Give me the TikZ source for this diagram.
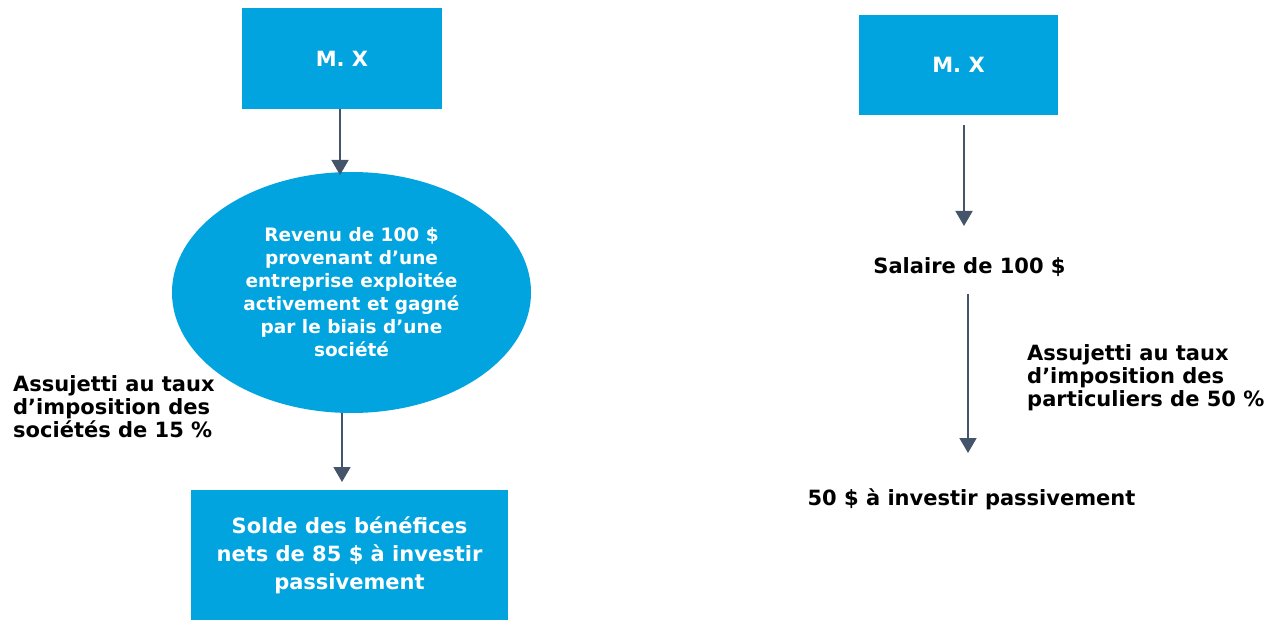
\documentclass[tikz,border=0pt]{standalone}
\usepackage{fontspec}
\setmainfont{DejaVu Sans}
\usetikzlibrary{
	positioning,
	arrows.meta,
	shapes.geometric
}
\definecolor{boxblue}{RGB}{2,164,224}
\definecolor{arrowgrey}{RGB}{68,84,106}

\begin{document}
\begin{tikzpicture}[
		x=1pt, y=-1pt,
		font=\bfseries\fontsize{21}{23}\selectfont,
		box/.style={fill=boxblue, text=white, inner sep=0pt, align=center},
		plain/.style={text=black, inner sep=0pt},
		flow/.style={draw=arrowgrey, line width=1.6pt, -{Triangle[width=17pt,length=15pt]}}
		]
		\useasboundingbox (0,0) rectangle (1282,620);
		
		% left side: through a company
		\node[box, minimum width=200pt, minimum height=101pt] (mx1) at (342,59) {M. X};
		\node[box, ellipse, minimum width=359pt, minimum height=241pt,
			font=\bfseries\fontsize{18.5}{23}\selectfont] (rev) at (351.5,292.5) {
			Revenu de 100 \$\\ provenant d’une\\ entreprise exploitée\\ activement et gagné\\ par le biais d’une\\ société
		};
		\node[box, minimum width=317pt, minimum height=130pt,
			font=\bfseries\fontsize{21}{28}\selectfont] (solde) at (349.5,555) {
			Solde des bénéfices\\ nets de 85 \$ à investir\\ passivement
		};
		\node[plain, align=left, anchor=west] (tax1) at (13,407) {
			Assujetti au taux\\ d’imposition des\\ sociétés de 15 \%
		};
		\coordinate (a1) at (340,109);
		\coordinate (b1) at (340,175);
		\coordinate (a2) at (342,413);
		\coordinate (b2) at (342,482);
		\draw[flow] (a1) -- (b1);
		\draw[flow] (a2) -- (b2);
		
		% right side: as salary
		\node[box, minimum width=199pt, minimum height=100pt] (mx2) at (958.5,65) {M. X};
		\node[plain] (sal) at (969.5,267) {Salaire de 100 \$};
		\node[plain, align=left, anchor=west] (tax2) at (1027,378) {
			Assujetti au taux\\ d’imposition des\\ particuliers de 50 \%
		};
		\node[plain] (net) at (971.5,499) {50 \$ à investir passivement};
		\coordinate (a3) at (964,125);
		\coordinate (b3) at (964,226);
		\coordinate (a4) at (968,294);
		\coordinate (b4) at (968,453);
		\draw[flow] (a3) -- (b3);
		\draw[flow] (a4) -- (b4);
		
	\end{tikzpicture}
\end{document}
